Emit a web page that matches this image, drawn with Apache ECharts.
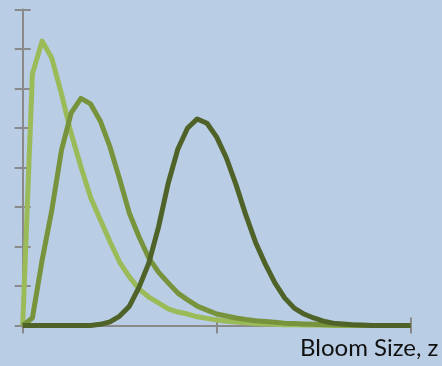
<!DOCTYPE html>
<html>
<head>
<meta charset="utf-8">
<style>
html,body{margin:0;padding:0;background:#b9cde5;}
#c{width:442px;height:366px;}
</style>
<script src="https://cdn.jsdelivr.net/npm/echarts@6/dist/echarts.min.js"></script>
</head>
<body>
<div id="c"></div>
<script>
var xValues = [0,0.05,0.1,0.15,0.2,0.25,0.3,0.35,0.4,0.45,0.5,0.55,0.6,0.65,0.7,0.75,0.8,0.85,0.9,0.95,1.0,1.05,1.1,1.15,1.2,1.25,1.3,1.35,1.4,1.45,1.5,1.55,1.6,1.65,1.7,1.75,1.8,1.85,1.9,1.95,2.0];
var lightSeries = [0,6.37,7.2,6.77,5.86,4.86,4.02,3.24,2.68,2.12,1.6,1.23,0.92,0.72,0.57,0.42,0.34,0.29,0.22,0.18,0.14,0.11,0.09,0.07,0.05,0.04,0.03,0.02,0.02,0.01,0.01,0.01,0,0,0,0,0,0,0,0,0];
var mediumSeries = [0,0.19,1.65,2.92,4.44,5.38,5.75,5.61,5.18,4.52,3.70,2.84,2.24,1.71,1.35,1.08,0.82,0.65,0.49,0.39,0.29,0.24,0.19,0.15,0.12,0.10,0.08,0.06,0.05,0.04,0.03,0.02,0.02,0.01,0.01,0,0,0,0,0,0];
var darkSeries = [0,0,0,0,0,0,0,0,0.03,0.09,0.24,0.49,0.97,1.58,2.49,3.6,4.47,5.0,5.23,5.12,4.77,4.24,3.56,2.8,2.11,1.56,1.08,0.7,0.44,0.29,0.19,0.11,0.06,0.04,0.02,0.01,0,0,0,0,0];
var xTicks = [0,1,2];
var yTicks = [0,1,2,3,4,5,6,7,8];
var axisTitle = 'Bloom Size, z';

function pairs(ys){ return xValues.map(function(x,i){ return [x, ys[i]]; }); }

var axisColor = '#8a8a8a';
function xAx(inside){
  return {type:'value', min:xTicks[0], max:xTicks[xTicks.length-1], interval:1, position:'bottom',
    axisLine:{show:!inside, lineStyle:{color:axisColor,width:2}},
    axisTick:{show:true, inside:inside, length:8, lineStyle:{color:axisColor,width:2}},
    axisLabel:{show:false}, splitLine:{show:false}};
}
function yAx(inside){
  return {type:'value', min:yTicks[0], max:yTicks[yTicks.length-1], interval:1, position:'left',
    axisLine:{show:!inside, lineStyle:{color:axisColor,width:2}},
    axisTick:{show:true, inside:inside, length:8, lineStyle:{color:axisColor,width:2}},
    axisLabel:{show:false}, splitLine:{show:false}};
}
function line(data, color){
  return {type:'line', data:pairs(data), xAxisIndex:0, yAxisIndex:0, showSymbol:false, symbol:'none', smooth:false,
    lineStyle:{color:color, width:5, cap:'butt', join:'round'}, animation:false, z:3};
}

var chart = echarts.init(document.getElementById('c'), null, {renderer:'canvas'});
chart.setOption({
  backgroundColor:'#b9cde5',
  animation:false,
  grid:{left:22.7, right:31.3, top:9.5, bottom:40.5},
  xAxis:[xAx(false), xAx(true)],
  yAxis:[yAx(false), yAx(true)],
  series:[
    line(lightSeries,'#9bbb59'),
    line(mediumSeries,'#77933c'),
    line(darkSeries,'#4f6228')
  ],
  graphic:[{type:'text', left:300, top:336, style:{text:axisTitle, fill:'#111', font:'24px Lato'}}]
});
</script>
</body>
</html>
